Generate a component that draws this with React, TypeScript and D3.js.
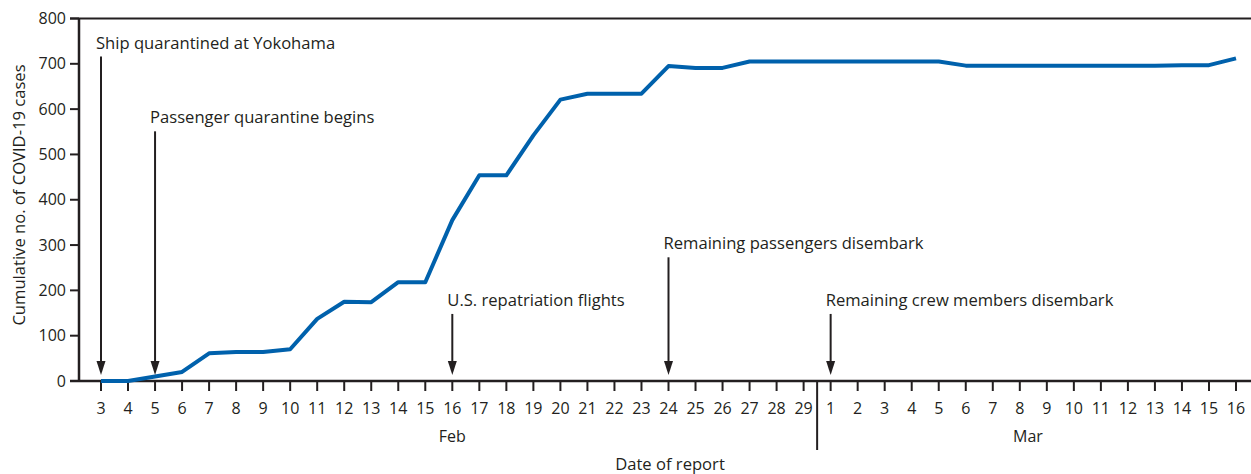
import React from "react";
import * as d3 from "d3";

// day-of-month labels for the x axis
const febDays = d3.range(3, 30);
const marDays = d3.range(1, 17);
const dayLabels = [...febDays, ...marDays];

// cumulative cases, Feb 3 -> Mar 16
const febCases = [
  0, 0, 10, 20, 61, 64, 64, 70, 137, 175, 174, 218, 218, 355, 454, 454, 542,
  621, 634, 634, 634, 695, 691, 691, 705, 705, 705,
];
const marCases = [
  705, 705, 705, 705, 705, 696, 696, 696, 696, 696, 696, 696, 696, 697, 697, 712,
];
const cases = [...febCases, ...marCases];

const yTicks = [0, 100, 200, 300, 400, 500, 600, 700, 800];

// events: day index, label, arrow top (in case units)
const eventIdx = [0, 2, 13, 21, 27];
const eventLabels = [
  "Ship quarantined at Yokohama",
  "Passenger quarantine begins",
  "U.S. repatriation flights",
  "Remaining passengers disembark",
  "Remaining crew members disembark",
];
const eventTops = [716, 551, 148, 273, 148];

const W = 1251;
const H = 474;
const ink = "#231f20";
const font = "'Open Sans', sans-serif";

const App = () => {
  const x = d3.scaleLinear().domain([0, dayLabels.length - 1]).range([101, 1236]);
  const y = d3.scaleLinear().domain([0, 800]).range([381, 18.5]);

  const line = d3
    .line<number>()
    .x((d, i) => x(i))
    .y((d) => y(d));

  const axisX = 79;
  const baseY = y(0);
  const sepX = (x(febDays.length - 1) + x(febDays.length)) / 2;
  const tipY = baseY - 6;

  return (
    <svg
      width={W}
      height={H}
      style={{ position: "absolute", left: 0, top: 0, background: "#fff" }}
      fontFamily={font}
      fill={ink}
    >
      {/* y axis */}
      <line x1={axisX} x2={axisX} y1={y(800)} y2={baseY} stroke={ink} strokeWidth={2.5} />
      <line x1={70} x2={W} y1={y(800)} y2={y(800)} stroke={ink} strokeWidth={2} />
      {yTicks.map((t) => (
        <g key={t}>
          <line x1={70} x2={axisX} y1={y(t)} y2={y(t)} stroke={ink} strokeWidth={2} />
          <text x={66} y={y(t)} dy="0.35em" textAnchor="end" fontSize={16}>
            {t}
          </text>
        </g>
      ))}
      <text
        transform={`translate(25,195)rotate(-90)`}
        textAnchor="middle"
        fontSize={16.6}
      >
        Cumulative no. of COVID-19 cases
      </text>

      {/* x axis */}
      <line x1={70} x2={W} y1={baseY} y2={baseY} stroke={ink} strokeWidth={2.5} />
      {dayLabels.map((d, i) => (
        <g key={i}>
          <line x1={x(i)} x2={x(i)} y1={baseY} y2={baseY + 10} stroke={ink} strokeWidth={2} />
          <text x={x(i)} y={408} dy="0.35em" textAnchor="middle" fontSize={16}>
            {d}
          </text>
        </g>
      ))}
      <line x1={sepX} x2={sepX} y1={baseY} y2={450} stroke={ink} strokeWidth={2} />
      <text x={x(13)} y={436} dy="0.35em" textAnchor="middle" fontSize={16}>
        Feb
      </text>
      <text x={x(34.3)} y={436} dy="0.35em" textAnchor="middle" fontSize={16}>
        Mar
      </text>
      <text x={670} y={464} dy="0.35em" textAnchor="middle" fontSize={16.6}>
        Date of report
      </text>

      {/* series */}
      <path d={line(cases) ?? ""} fill="none" stroke="#0061ac" strokeWidth={4} strokeLinejoin="round" />

      {/* events */}
      {eventIdx.map((idx, k) => {
        const ax = x(idx);
        return (
          <g key={k}>
            <line x1={ax} x2={ax} y1={y(eventTops[k])} y2={tipY - 10} stroke={ink} strokeWidth={2} />
            <path d={`M${ax - 4.5},${tipY - 14} L${ax + 4.5},${tipY - 14} L${ax},${tipY} Z`} fill={ink} />
            <text x={ax - 5} y={y(eventTops[k]) - 8} fontSize={16.6}>
              {eventLabels[k]}
            </text>
          </g>
        );
      })}
    </svg>
  );
};

export default App;
